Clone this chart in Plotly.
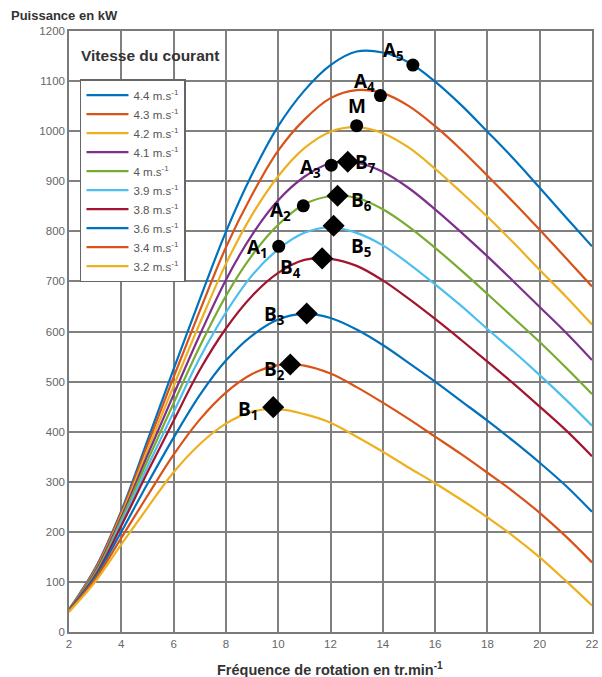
import plotly.graph_objects as go

# ---- data ----
freq = [2, 3, 4, 5, 6, 7, 8, 9, 10, 11, 12, 13, 14, 15, 16, 17, 18, 19, 20, 21, 22]

speed_labels = ["4.4", "4.3", "4.2", "4.1", "4", "3.9", "3.8", "3.6", "3.4", "3.2"]

p_44 = [45, 127, 242, 382, 525, 664, 799, 914, 1010, 1081, 1132, 1159, 1157, 1137, 1099, 1052, 999, 945, 887, 828, 770]
p_43 = [44, 125, 238, 373, 509, 641, 768, 873, 961, 1023, 1066, 1082, 1076, 1050, 1010, 963, 911, 858, 803, 747, 690]
p_42 = [45, 122, 233, 363, 491, 616, 735, 833, 910, 966, 999, 1008, 996, 967, 925, 878, 829, 777, 723, 670, 614]
p_41 = [45, 120, 229, 353, 474, 593, 703, 793, 862, 909, 936, 937, 919, 886, 844, 798, 750, 700, 649, 598, 543]
p_40 = [45, 117, 224, 342, 457, 570, 671, 752, 813, 854, 870, 867, 844, 809, 767, 722, 675, 627, 579, 528, 475]
p_39 = [44, 113, 218, 330, 439, 547, 638, 712, 764, 797, 808, 797, 772, 735, 694, 651, 605, 560, 513, 464, 412]
p_38 = [44, 112, 212, 319, 422, 523, 606, 671, 717, 743, 745, 731, 702, 665, 625, 583, 540, 496, 450, 403, 351]
p_36 = [43, 109, 200, 296, 388, 473, 542, 592, 624, 635, 627, 604, 573, 537, 500, 461, 422, 381, 338, 292, 240]
p_34 = [42, 105, 188, 272, 354, 424, 478, 515, 533, 532, 516, 489, 458, 425, 390, 355, 318, 280, 238, 191, 139]
p_32 = [40, 100, 175, 248, 319, 375, 416, 440, 445, 435, 418, 390, 360, 328, 297, 264, 229, 191, 149, 102, 53]

series = [p_44, p_43, p_42, p_41, p_40, p_39, p_38, p_36, p_34, p_32]
colors = ["#0072BD", "#D95319", "#EDB120", "#7E2F8E", "#77AC30",
          "#4DBEEE", "#A2142F", "#0072BD", "#D95319", "#EDB120"]

# points A (circles) and B (diamonds)
a_names = ["A<sub>1</sub>", "A<sub>2</sub>", "A<sub>3</sub>", "A<sub>4</sub>", "A<sub>5</sub>", "M"]
a_x = [10.02, 10.96, 12.03, 13.91, 15.15, 13.0]
a_y = [770, 851, 932, 1071, 1132, 1011]
a_lx = [9.2, 10.1, 11.25, 13.3, 14.4, 13.0]
a_ly = [766, 840, 926, 1098, 1160, 1050]

b_names = ["B<sub>1</sub>", "B<sub>2</sub>", "B<sub>3</sub>", "B<sub>4</sub>", "B<sub>5</sub>", "B<sub>6</sub>", "B<sub>7</sub>"]
b_x = [9.81, 10.46, 11.09, 11.68, 12.12, 12.27, 12.66]
b_y = [449, 534, 636, 746, 811, 871, 939]
b_lx = [8.85, 9.85, 9.85, 10.47, 13.15, 13.2, 13.35]
b_ly = [444, 524, 632, 726, 768, 860, 936]

x_ticks = [2, 4, 6, 8, 10, 12, 14, 16, 18, 20, 22]
y_ticks = [0, 100, 200, 300, 400, 500, 600, 700, 800, 900, 1000, 1100, 1200]

fig = go.Figure()

for lab, ys, col in zip(speed_labels, series, colors):
    fig.add_trace(go.Scatter(
        x=freq, y=ys, mode="lines", name=f"{lab} m.s<sup>-1</sup>",
        line=dict(color=col, width=2.2, shape="spline", smoothing=1.0),
    ))

fig.add_trace(go.Scatter(
    x=a_x, y=a_y, mode="markers", showlegend=False,
    marker=dict(symbol="circle", size=13, color="black"),
))
fig.add_trace(go.Scatter(
    x=b_x, y=b_y, mode="markers", showlegend=False,
    marker=dict(symbol="diamond", size=17, color="black"),
))

lab_font = dict(family="Open Sans, Noto Sans, sans-serif", size=19, color="black")
for n, lx, ly in zip(a_names + b_names, a_lx + b_lx, a_ly + b_ly):
    fig.add_annotation(x=lx, y=ly, text=f"<b>{n}</b>", showarrow=False,
                       font=lab_font, xanchor="center", yanchor="middle")

# titles
fig.add_annotation(xref="paper", yref="paper", x=-0.115, y=1.0, yshift=16,
                   text="<b>Puissance en kW</b>", showarrow=False,
                   xanchor="left", yanchor="middle",
                   font=dict(family="Liberation Sans, Arial", size=13, color="#333"))
fig.add_annotation(xref="paper", yref="paper", x=0.28, y=0, yshift=-37,
                   text="<b>Fréquence de rotation en tr.min<sup>-1</sup></b>", showarrow=False,
                   xanchor="left", yanchor="middle",
                   font=dict(family="Liberation Sans, Arial", size=14.5, color="#333"))
fig.add_annotation(x=2.38, y=1152, text="<b>Vitesse du courant</b>", showarrow=False,
                   xanchor="left", yanchor="middle",
                   font=dict(family="Liberation Sans, Arial", size=15.5, color="#333"))

axis_common = dict(showgrid=True, gridcolor="#808080", gridwidth=1.6, griddash="solid",
                   showline=True, linecolor="#7a7a7a", linewidth=1.5, mirror=True,
                   zeroline=False, ticks="", tickmode="array", layer="above traces",
                   ticklabeloverflow="allow",
                   tickfont=dict(family="Liberation Sans, Arial", size=11.5, color="#666"))

fig.update_layout(
    width=602, height=677,
    margin=dict(l=69, r=4, t=31, b=45),
    paper_bgcolor="white", plot_bgcolor="white",
    xaxis=dict(range=[2, 22], tickvals=x_ticks, **axis_common),
    yaxis=dict(range=[0, 1200], tickvals=y_ticks, **axis_common),
    legend=dict(x=0.021, y=0.92, xanchor="left", yanchor="top",
                bgcolor="white", bordercolor="#666", borderwidth=1.5,
                font=dict(family="Liberation Sans, Arial", size=11.5, color="#555"),
                itemwidth=42, tracegroupgap=0),
    showlegend=True,
)

fig.write_html("out.html", config={"displayModeBar": False},
               post_script="document.body.style.margin='0px';")
